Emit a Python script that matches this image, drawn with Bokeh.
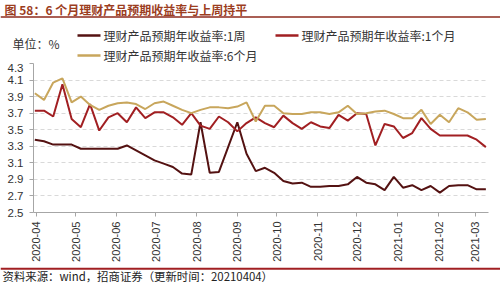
import math
from datetime import datetime
import pandas as pd
from bokeh.plotting import figure
from bokeh.layouts import column
from bokeh.models import (Range1d, FixedTicker, MonthsTicker, DatetimeTickFormatter,
                          NumeralTickFormatter)
from bokeh.core.properties import value
from bokeh.embed import file_html
from bokeh.resources import INLINE

# ---------------- data ----------------
dates = pd.date_range("2020-03-31", periods=50, freq="7D")

week_1 = [3.38, 3.36, 3.32, 3.32, 3.32, 3.27, 3.27, 3.27, 3.27, 3.27,
          3.31, 3.25, 3.19, 3.13, 3.09, 3.05, 2.97, 2.96, 3.59, 2.98,
          2.99, 3.29, 3.59, 3.21, 3.00, 3.04, 2.98, 2.88, 2.85, 2.86,
          2.81, 2.81, 2.82, 2.82, 2.84, 2.93, 2.86, 2.84, 2.77, 2.93,
          2.80, 2.83, 2.77, 2.82, 2.74, 2.82, 2.83, 2.83, 2.78, 2.78]

month_1 = [3.73, 3.73, 3.66, 4.05, 3.63, 3.53, 3.81, 3.49, 3.65, 3.70,
           3.59, 3.77, 3.64, 3.71, 3.71, 3.65, 3.56, 3.70, 3.55, 3.51,
           3.66, 3.59, 3.48, 3.58, 3.65, 3.58, 3.53, 3.67, 3.58, 3.51,
           3.59, 3.54, 3.52, 3.68, 3.61, 3.70, 3.69, 3.31, 3.57, 3.54,
           3.40, 3.46, 3.64, 3.51, 3.43, 3.43, 3.43, 3.43, 3.38, 3.29]

month_6 = [3.94, 3.86, 4.07, 4.12, 3.83, 3.90, 3.80, 3.74, 3.79, 3.82,
           3.83, 3.81, 3.75, 3.82, 3.84, 3.79, 3.74, 3.70, 3.74, 3.77,
           3.77, 3.76, 3.78, 3.83, 3.60, 3.79, 3.79, 3.70, 3.69, 3.69,
           3.71, 3.71, 3.69, 3.71, 3.79, 3.69, 3.70, 3.72, 3.73, 3.69,
           3.64, 3.64, 3.74, 3.57, 3.68, 3.59, 3.76, 3.71, 3.62, 3.63]

series_names = ["理财产品预期年收益率:1周", "理财产品预期年收益率:1个月", "理财产品预期年收益率:6个月"]
series_colors = ["#541212", "#A11F22", "#C8A65C"]
y_ticks = [2.5, 2.7, 2.9, 3.1, 3.3, 3.5, 3.7, 3.9, 4.1, 4.3]

title_text = "图 58：6 个月理财产品预期收益率与上周持平"
unit_text = "单位：%"
source_text = "资料来源：wind，招商证券（更新时间：20210404）"

CJK = "Noto Sans CJK SC"
LAT = "Liberation Sans"

W = 500
HEAD_H = 63      # header band (title, rule, legend)
MAIN_H = 201     # chart band
FOOT_H = 283 - HEAD_H - MAIN_H


def blank(h, y_top, y_bottom):
    f = figure(width=W, height=h, output_backend="svg", toolbar_location=None,
               x_axis_location=None, y_axis_location=None,
               x_range=Range1d(0, W), y_range=Range1d(y_bottom, y_top))
    f.grid.visible = False
    f.outline_line_color = None
    f.min_border = 0
    f.min_border_left = f.min_border_right = f.min_border_top = f.min_border_bottom = 0
    f.background_fill_color = "white"
    f.border_fill_color = "white"
    f.frame_align = False
    return f

# ---------------- header ----------------
head = blank(HEAD_H, 0, HEAD_H)
head.text(x=[4], y=[8.5], text=[title_text], text_font=value(CJK), text_font_size="12px",
          text_font_style="bold", text_color="#9C3D1E", text_baseline="middle", text_align="left")
head.segment(x0=[0], y0=[16.5], x1=[W], y1=[16.5], line_color="#8E2A1C", line_width=1.6)
head.text(x=[12], y=[43], text=[unit_text], text_font=value(CJK), text_font_size="12px",
          text_color="#333333", text_baseline="middle", text_align="left")

leg_x = [77, 275, 77]
leg_y = [35, 35, 55]
for nm, col, lx, ly in zip(series_names, series_colors, leg_x, leg_y):
    head.segment(x0=[lx], y0=[ly], x1=[lx + 23], y1=[ly], line_color=col, line_width=2.5)
    head.text(x=[lx + 26], y=[ly], text=[nm], text_font=value(CJK), text_font_size="12px",
              text_color="#333333", text_baseline="middle", text_align="left")

# ---------------- main chart ----------------
p = figure(width=W, height=MAIN_H, output_backend="svg", toolbar_location=None,
           x_axis_type="datetime",
           x_range=Range1d(datetime(2020, 3, 30), datetime(2021, 3, 11)),
           y_range=Range1d(2.5, 4.3))
p.frame_align = False
p.min_border_top = 0
p.min_border_bottom = 51
p.min_border_left = 33
p.min_border_right = 12
p.outline_line_color = None
p.background_fill_color = "white"
p.border_fill_color = "white"

for vals, col in zip([week_1, month_1, month_6], series_colors):
    p.line(list(dates), vals, line_color=col, line_width=2)

p.yaxis.ticker = FixedTicker(ticks=y_ticks)
p.yaxis.formatter = NumeralTickFormatter(format="0.0")
p.xaxis.ticker = MonthsTicker(months=list(range(1, 13)))
p.xaxis.formatter = DatetimeTickFormatter(months="%Y-%m", days="%Y-%m")
p.xaxis.major_label_orientation = math.pi / 2
for ax in (p.xaxis, p.yaxis):
    ax.axis_line_color = "#A6A6A6"
    ax.major_tick_line_color = "#A6A6A6"
    ax.minor_tick_line_color = None
    ax.major_tick_in = 0
    ax.major_tick_out = 4
    ax.major_label_text_font = LAT
    ax.major_label_text_color = "#333333"
p.xaxis.major_label_text_font_size = "11px"
p.yaxis.major_label_text_font_size = "11.5px"
p.yaxis.major_label_standoff = 6
p.xaxis.major_label_standoff = 5

p.xgrid.grid_line_color = None
p.ygrid.ticker = FixedTicker(ticks=y_ticks)
p.ygrid.grid_line_color = "#D9D9D9"
p.ygrid.grid_line_dash = "4 3"
p.ygrid.grid_line_width = 1

# ---------------- footer ----------------
foot = blank(FOOT_H, 264, 283)
foot.segment(x0=[0], y0=[268.2], x1=[W], y1=[268.2], line_color="#A11F22", line_width=2)
foot.text(x=[2], y=[275.8], text=[source_text], text_font=value(CJK), text_font_size="11.4px",
          text_color="#222222", text_baseline="middle", text_align="left")

layout = column(head, p, foot, spacing=0)
open("out.html", "w").write(file_html(layout, INLINE))
